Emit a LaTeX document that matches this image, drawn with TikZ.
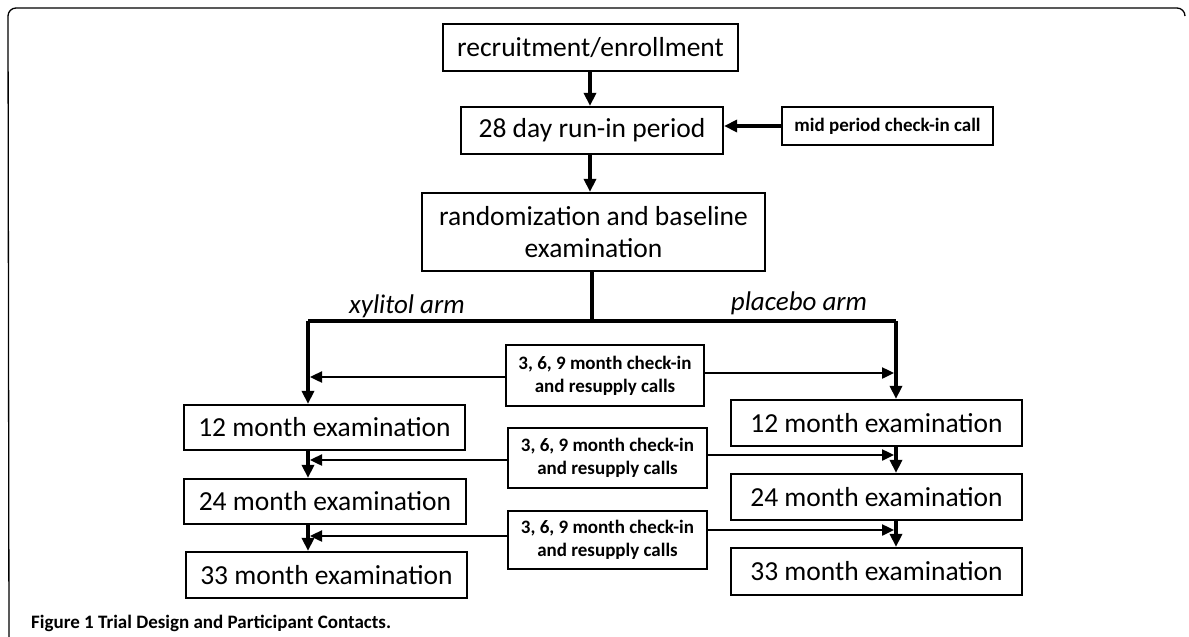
\documentclass[tikz,border=0pt]{standalone}
\usepackage{fontspec}
\setmainfont{Carlito}
\usetikzlibrary{arrows.meta}
\begin{document}
\begin{tikzpicture}[x=1pt,y=-1pt,
  box/.style={draw, line width=2.2pt, inner sep=0pt, align=center},
  bigbox/.style={box, font=\fontsize{27.5}{32}\selectfont},
  callbox/.style={box, font=\bfseries\fontsize{19}{23}\selectfont},
  mainarr/.style={line width=3.2pt, -{Triangle[length=13pt,width=12pt]}},
  branch/.style={line width=4.2pt},
  callarr/.style={line width=2.4pt, -{Triangle[length=12pt,width=11pt]}},
  armlabel/.style={font=\itshape\fontsize{27}{30}\selectfont, inner sep=0pt}
]
\useasboundingbox (0,0) rectangle (1189,637);
% frame
\draw[line width=1.3pt, rounded corners=8pt] (9,645) -- (8,8) -- (1185,8) -- (1185,16);

% top chain
\node[bigbox, minimum width=295pt, minimum height=47pt] (rec) at (590.5,47.5) {recruitment/enrollment};
\node[bigbox, minimum width=262pt, minimum height=47pt] (run) at (592,130.5) {28 day run-in period};
\node[callbox, minimum width=211pt, minimum height=38pt] (mid) at (887.5,126) {mid period check-in call};
\node[bigbox, minimum width=343pt, minimum height=78pt] (rand) at (593.5,232) {randomization and baseline\\examination};

\draw[mainarr] (rec.south -| 590,0) -- (run.north -| 590,0);
\draw[mainarr] (run.south -| 590,0) -- (rand.north -| 590,0);
\draw[mainarr] (mid.west) -- (run.east |- mid.west);

% branch
\coordinate (bmid) at (592,321);
\coordinate (bl) at (308,321);
\coordinate (br) at (896,321);
\draw[branch] (rand.south -| bmid) -- (bmid);
\draw[branch] (bl) -- (br);
\node[armlabel] (xyl) at (407,306) {xylitol arm};
\node[armlabel] (plc) at (799,303) {placebo arm};

% exam boxes
\node[bigbox, minimum width=281pt, minimum height=45pt] (L12) at (324.5,427.5) {12 month examination};
\node[bigbox, minimum width=282pt, minimum height=45pt] (L24) at (325,501.5) {24 month examination};
\node[bigbox, minimum width=281pt, minimum height=46pt] (L33) at (326.5,575) {33 month examination};
\node[bigbox, minimum width=291pt, minimum height=46pt] (R12) at (876.5,423) {12 month examination};
\node[bigbox, minimum width=291pt, minimum height=46pt] (R24) at (876.5,497) {24 month examination};
\node[bigbox, minimum width=291pt, minimum height=47pt] (R33) at (876.5,571.5) {33 month examination};

% call boxes
\node[callbox, minimum width=198pt, minimum height=61pt] (C1) at (605,375.5) {3, 6, 9 month check-in\\and resupply calls};
\node[callbox, minimum width=199pt, minimum height=60pt] (C2) at (607.5,458) {3, 6, 9 month check-in\\and resupply calls};
\node[callbox, minimum width=199pt, minimum height=58pt] (C3) at (607.5,540) {3, 6, 9 month check-in\\and resupply calls};

% arm verticals
\draw[branch] (bl) -- (308,340);
\draw[mainarr] (308,338) -- (L12.north -| bl);
\draw[branch] (br) -- (896,340);
\draw[mainarr] (896,338) -- (R12.north -| br);
\draw[mainarr] (L12.south -| bl) -- (L24.north -| bl);
\draw[mainarr] (L24.south -| bl) -- (L33.north -| bl);
\draw[mainarr] (R12.south -| br) -- (R24.north -| br);
\draw[mainarr] (R24.south -| br) -- (R33.north -| br);

% call arrows
\draw[callarr] (C1.west |- 0,377) -- (310,377);
\draw[callarr] (C2.west |- 0,460) -- (310,460);
\draw[callarr] (C3.west |- 0,536) -- (310,536);
\draw[callarr] (C1.east |- 0,373) -- (894,373);
\draw[callarr] (C2.east |- 0,455) -- (894,455);
\draw[callarr] (C3.east |- 0,530) -- (894,530);

% caption
\node[anchor=west, inner sep=0pt, font=\bfseries\fontsize{19}{22}\selectfont] (cap) at (31,623) {Figure 1 Trial Design and Participant Contacts.};
\end{tikzpicture}
\end{document}
